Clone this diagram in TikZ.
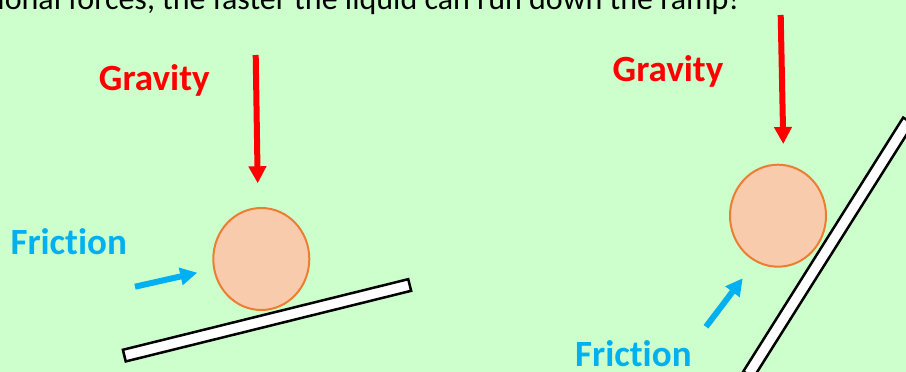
\documentclass[tikz,border=0pt]{standalone}
\usepackage{fontspec}
\setmainfont[Ligatures=NoCommon]{Carlito}
\usepackage{xcolor}
\definecolor{Backdrop}{RGB}{204, 255, 204}
\definecolor{ForceRed}{RGB}{255, 0, 0}
\definecolor{ForceBlue}{RGB}{0, 176, 240}
\definecolor{DropEdge}{RGB}{237, 125, 49}
\definecolor{DropFill}{RGB}{248, 203, 173}
\usetikzlibrary{arrows.meta, positioning, shapes.geometric}

\begin{document}
\begin{tikzpicture}[
    x=1pt, y=-1pt,
    drop/.style={ellipse, minimum width=96pt, minimum height=102pt, draw=DropEdge, line width=2pt, fill=DropFill},
    ramp/.style={rectangle, minimum width=294pt, minimum height=12pt, draw=black, line width=2.5pt, fill=white},
    label/.style={font=\fontsize{37}{40}\selectfont\bfseries, inner sep=0pt, anchor=base},
    force/.style={-{Triangle[width=17pt, length=17pt]}, line width=6pt}
]

% Frame
\useasboundingbox (0,0) rectangle (906,372);
\clip (0,0) rectangle (906,372);
\fill[Backdrop] (0,0) rectangle (906,372);

% Caption line cut off at the top
\node[font=\fontsize{32}{36}\selectfont, inner sep=0pt, anchor=base east] (caption) at (739.3,9.5)
    {ional forces, the faster the liquid can run down the ramp!};

% Gentle ramp
\node[ramp, rotate=13.9] (rampL) at (267,320.3) {};
\node[drop] (dropL) at (261.3,259) {};
\node[label, ForceRed] (gravL) at (154.3,90.7) {Gravity};
\node[label, ForceBlue] (fricL) at (68.7,254) {Friction};
\coordinate (gravLtail) at (255.7,55);
\coordinate (gravLtip) at (257.7,183.3);
\coordinate (fricLtail) at (135,286.7);
\coordinate (fricLtip) at (197.3,272.7);
\draw[force, ForceRed] (gravLtail) -- (gravLtip);
\draw[force, ForceBlue] (fricLtail) -- (fricLtip);

% Steep ramp
\node[ramp, minimum width=300pt, rotate=57.8] (rampR) at (828.3,247.7) {};
\node[drop] (dropR) at (778,215.7) {};
\node[label, ForceRed] (gravR) at (668,81.7) {Gravity};
\node[label, ForceBlue] (fricR) at (633.4,366.7) {Friction};
\coordinate (gravRtail) at (780.7,15);
\coordinate (gravRtip) at (783.3,144);
\coordinate (fricRtail) at (706,326.7);
\coordinate (fricRtip) at (742.7,278.3);
\draw[force, ForceRed] (gravRtail) -- (gravRtip);
\draw[force, ForceBlue] (fricRtail) -- (fricRtip);

\end{tikzpicture}
\end{document}
